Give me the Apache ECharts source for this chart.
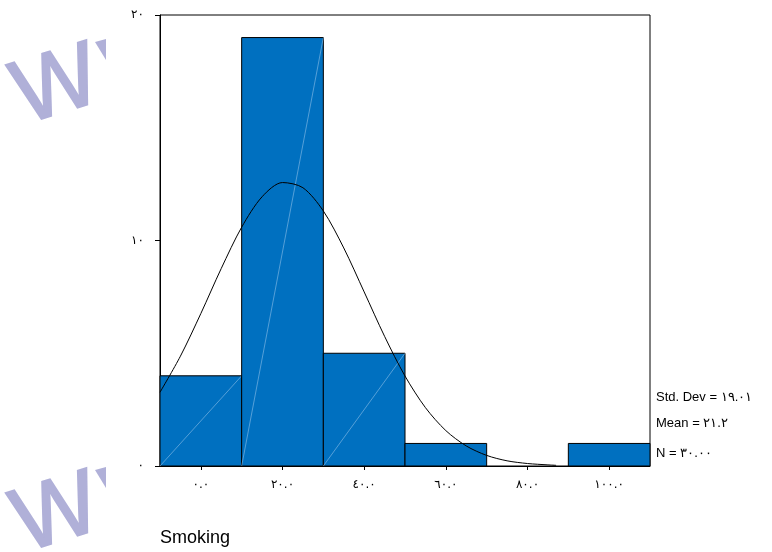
<!DOCTYPE html>
<html>
<head>
<meta charset="utf-8">
<script src="https://cdn.jsdelivr.net/npm/echarts@6/dist/echarts.min.js"></script>
<style>
  html, body { margin: 0; padding: 0; background: #fff; }
  #main { width: 772px; height: 552px; }
</style>
</head>
<body>
<div id="main"></div>
<script>
// histogram bins (centre of each bin) and counts
const binCenters = [0, 20, 40, 60, 80, 100];
const counts = [4, 19, 5, 1, 0, 1];
const binWidth = 20;
// normal curve
const curveX = [-10, -5, 0, 5, 10, 15, 20, 25, 30, 35, 40, 45, 50, 55, 60, 65, 70, 75, 80, 85, 87];
const curveY = [3.27, 4.87, 6.76, 8.76, 10.59, 11.94, 12.57, 12.34, 11.31, 9.67, 7.72, 5.75, 3.99, 2.59, 1.57, 0.89, 0.47, 0.23, 0.11, 0.05, 0.03];
const xTicks = [0, 20, 40, 60, 80, 100];
const statLines = ['Std. Dev = ١٩.٠١', 'Mean = ٢١.٢', 'N = ٣٠.٠٠'];
const axisTitle = 'Smoking';

const arabicDigits = '٠١٢٣٤٥٦٧٨٩';
function toArabic(s) {
    return String(s).replace(/[0-9]/g, d => arabicDigits[+d]);
}

// watermark "W" with the cut-off start of the next letter
function watermark(dy) {
    return [
        {
            type: 'text', z: 1, x: 57, y: 88 + dy, rotation: 0.3,
            style: { text: 'W', fontSize: 90, fontFamily: 'Liberation Sans', fill: '#b0b0d8',
                     align: 'center', verticalAlign: 'middle',
                     stroke: '#b0b0d8', lineWidth: 2 }
        },
        {
            type: 'polygon', z: 1,
            shape: { points: [[95, 42 + dy], [106, 39 + dy], [106, 60 + dy]] },
            style: { fill: '#b0b0d8' }
        }
    ];
}

let myChart = echarts.init(document.getElementById('main'));
let option = {
    animation: false,
    backgroundColor: '#fff',
    grid: {
        left: 160, right: 122, top: 15, bottom: 86,
        show: true, borderColor: '#000', borderWidth: 1
    },
    xAxis: {
        type: 'value',
        min: -10, max: 110,
        axisLine: { show: true, onZero: false, lineStyle: { color: '#000', width: 1 } },
        axisTick: { show: true, length: 4, customValues: xTicks, lineStyle: { color: '#000' } },
        axisLabel: {
            customValues: xTicks,
            formatter: v => toArabic(v.toFixed(1)),
            color: '#000', fontSize: 12, margin: 13,
            fontFamily: 'DejaVu Sans'
        },
        splitLine: { show: false }
    },
    yAxis: {
        type: 'value',
        min: 0, max: 20, interval: 10,
        axisLine: { show: true, onZero: false, lineStyle: { color: '#000', width: 1 } },
        axisTick: { show: true, length: 5, lineStyle: { color: '#000' } },
        axisLabel: {
            formatter: v => toArabic(v),
            color: '#000', fontSize: 12, margin: 16,
            fontFamily: 'DejaVu Sans'
        },
        splitLine: { show: false }
    },
    graphic: [
        ...watermark(0),
        ...watermark(428),
        {
            type: 'text', z: 3, x: 160, y: 538,
            style: { text: axisTitle, fontSize: 18, fontFamily: 'Liberation Sans', fill: '#000', verticalAlign: 'middle' }
        },
        {
            type: 'text', z: 3, x: 656, y: 397,
            style: { text: statLines[0], fontSize: 13, fontFamily: 'Liberation Sans', fill: '#000', verticalAlign: 'middle' }
        },
        {
            type: 'text', z: 3, x: 656, y: 423,
            style: { text: statLines[1], fontSize: 13, fontFamily: 'Liberation Sans', fill: '#000', verticalAlign: 'middle' }
        },
        {
            type: 'text', z: 3, x: 656, y: 453,
            style: { text: statLines[2], fontSize: 13, fontFamily: 'Liberation Sans', fill: '#000', verticalAlign: 'middle' }
        }
    ],
    series: [
        {
            type: 'custom',
            data: binCenters.map((c, i) => [c, counts[i]]),
            encode: { x: 0, y: 1 },
            renderItem: function (params, api) {
                let c = api.value(0), n = api.value(1);
                if (!n) return null;
                let tl = api.coord([c - binWidth / 2, n]);
                let br = api.coord([c + binWidth / 2, 0]);
                let children = [{
                    type: 'rect',
                    shape: { x: tl[0], y: tl[1], width: br[0] - tl[0], height: br[1] - tl[1] },
                    style: { fill: '#0070c0', stroke: '#000', lineWidth: 1 }
                }];
                if (params.dataIndex < 3) {
                    children.push({
                        type: 'line',
                        shape: { x1: tl[0], y1: br[1], x2: br[0], y2: tl[1] },
                        style: { stroke: '#8fbfe8', lineWidth: 0.6 }
                    });
                }
                return { type: 'group', children: children };
            },
            z: 2
        },
        {
            type: 'line',
            data: curveX.map((x, i) => [x, curveY[i]]),
            smooth: 0.3,
            showSymbol: false,
            lineStyle: { color: '#000', width: 1 },
            z: 3
        }
    ]
};
myChart.setOption(option);
</script>
</body>
</html>
